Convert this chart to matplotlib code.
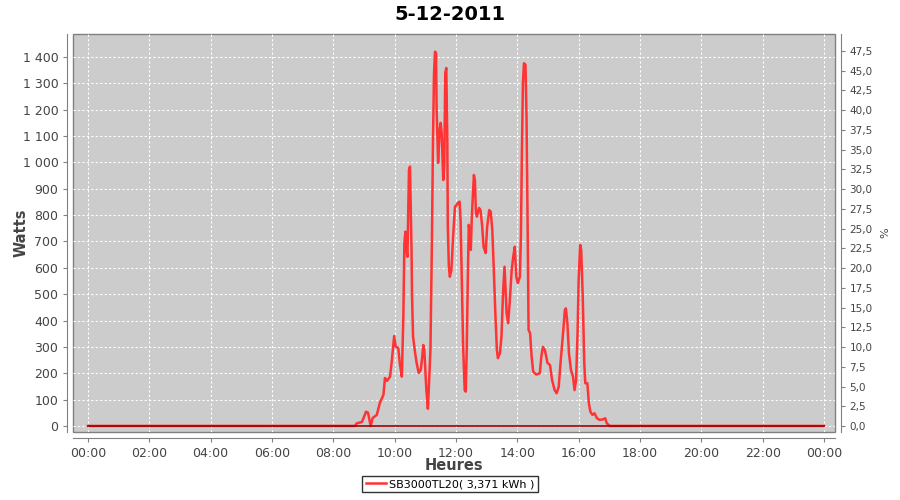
import numpy as np
import matplotlib
matplotlib.use("Agg")
import matplotlib.pyplot as plt
from matplotlib.ticker import FuncFormatter, MultipleLocator

# puissance relevee (heure, watts)
times = ["00:00", "08:42", "08:46", "08:56", "09:04", "09:08", "09:13", "09:17", "09:25",
         "09:31", "09:38", "09:41", "09:45", "09:51", "09:54", "09:59", "10:02", "10:07",
         "10:10", "10:14", "10:17", "10:19", "10:21", "10:23", "10:25", "10:28", "10:30",
         "10:33", "10:34", "10:36", "10:40", "10:43", "10:47", "10:51", "10:54", "10:56",
         "10:58", "11:00", "11:02", "11:04", "11:05", "11:07", "11:10", "11:13", "11:15",
         "11:17", "11:19", "11:21", "11:22", "11:25", "11:28", "11:30", "11:32", "11:35",
         "11:37", "11:39", "11:41", "11:43", "11:44", "11:46", "11:48", "11:51", "11:54",
         "11:58", "12:01", "12:04", "12:07", "12:09", "12:11", "12:14", "12:17", "12:19",
         "12:21", "12:23", "12:25", "12:27", "12:29", "12:31", "12:35", "12:37", "12:39",
         "12:41", "12:45", "12:48", "12:51", "12:54", "12:58", "13:01", "13:05", "13:08",
         "13:11", "13:14", "13:17", "13:20", "13:22", "13:26", "13:29", "13:32", "13:35",
         "13:39", "13:42", "13:45", "13:49", "13:52", "13:55", "13:58", "14:01", "14:05",
         "14:07", "14:09", "14:11", "14:13", "14:16", "14:18", "14:20", "14:22", "14:25",
         "14:28", "14:31", "14:37", "14:44", "14:47", "14:50", "14:54", "14:59", "15:04",
         "15:08", "15:13", "15:17", "15:21", "15:25", "15:30", "15:33", "15:35", "15:38",
         "15:41", "15:45", "15:49", "15:52", "15:55", "15:58", "16:00", "16:03", "16:05",
         "16:08", "16:11", "16:13", "16:17", "16:20", "16:23", "16:27", "16:31", "16:36",
         "16:41", "16:48", "16:52", "16:55", "17:01", "24:00"]
watts = [0, 0, 10, 15, 54, 50, 0, 30, 42,
         87, 118, 182, 171, 187, 239, 341, 301, 296,
         239, 187, 415, 694, 737, 668, 642, 971, 984,
         668, 491, 339, 277, 239, 201, 212, 263, 307,
         288, 212, 136, 92, 65, 150, 288, 720, 1085,
         1339, 1420, 1415, 1211, 998, 1123, 1150, 1112, 933,
         984, 1339, 1358, 1085, 756, 604, 566, 592, 706,
         832, 838, 846, 851, 781, 580, 300, 136, 130,
         288, 542, 763, 732, 668, 794, 952, 933, 808,
         794, 827, 819, 763, 680, 656, 756, 819, 813,
         744, 592, 428, 288, 257, 276, 339, 503, 604,
         428, 390, 466, 592, 642, 680, 566, 542, 566,
         718, 1047, 1301, 1376, 1370, 1173, 794, 364, 352,
         263, 206, 195, 200, 263, 300, 288, 239, 231,
         174, 136, 124, 149, 250, 364, 440, 446, 390,
         276, 212, 187, 136, 174, 364, 554, 687, 668,
         491, 238, 162, 162, 86, 54, 42, 48, 29,
         23, 25, 29, 10, 0, 0]

# serie en % (nulle toute la journee)
pct_times = ["00:00", "24:00"]
pct_values = [0, 0]

xtick_labels = ["00:00", "02:00", "04:00", "06:00", "08:00", "10:00", "12:00",
                "14:00", "16:00", "18:00", "20:00", "22:00", "00:00"]
legend_label = "SB3000TL20( 3,371 kWh )"
title = "5-12-2011"


def to_hours(t):
    h, m = t.split(":")
    return int(h) + int(m) / 60.0


x = np.array([to_hours(t) for t in times])
xp = np.array([to_hours(t) for t in pct_times])

fig = plt.figure(figsize=(9, 5), dpi=100)
ax = fig.add_axes([73 / 900, 68 / 500, 762 / 900, 398 / 500])
ax2 = ax.twinx()

ax.set_facecolor("#cccccc")
for s in ["top", "right"]:
    ax.spines[s].set_visible(False)
ax.spines["left"].set_position(("outward", 4))
ax.spines["bottom"].set_position(("outward", 4))
for s in ["left", "bottom"]:
    ax.spines[s].set_color("#808080")
ax.patch.set_edgecolor("#808080")
ax.patch.set_linewidth(1.0)

ax.plot(x, watts, color="#ff3333", lw=1.8, label=legend_label, zorder=3)
ax2.plot(xp, pct_values, color="#a00000", lw=1.2, zorder=4)

ax.set_xlim(-0.49, 24.36)
ax.set_ylim(-23, 1487)
ax2.set_ylim(-0.76, 49.65)

ax.set_xticks(np.arange(0, 25, 2))
ax.set_xticklabels(xtick_labels)
ax.yaxis.set_major_locator(MultipleLocator(100))
ax.yaxis.set_major_formatter(FuncFormatter(lambda v, p: f"{int(v):,}".replace(",", " ")))
ax2.yaxis.set_major_locator(MultipleLocator(2.5))
ax2.yaxis.set_major_formatter(FuncFormatter(lambda v, p: f"{v:.1f}".replace(".", ",")))

ax.grid(True, color="white", ls=(0, (2, 2)), lw=0.8)
ax.tick_params(axis="both", colors="#808080", labelcolor="#444444", labelsize=9, length=3)
ax2.tick_params(axis="y", colors="#808080", labelcolor="#444444", labelsize=7.5, length=3)

for s in ["top", "left", "bottom"]:
    ax2.spines[s].set_visible(False)
ax2.spines["right"].set_position(("outward", 4))
ax2.spines["right"].set_color("#808080")

ax.set_xlabel("Heures", fontsize=10.5, color="#444444", fontweight="bold")
ax.set_ylabel("Watts", fontsize=10.5, color="#444444", fontweight="bold")
ax2.set_ylabel("%", fontsize=8, color="#444444")
ax.xaxis.set_label_coords(0.5, -0.066)
ax.yaxis.set_label_coords(-0.058, 0.5)
ax2.yaxis.set_label_coords(1.06, 0.5)

fig.suptitle(title, x=0.5, y=0.99, fontsize=14, fontweight="bold")

leg = fig.legend(loc="lower center", bbox_to_anchor=(0.5, 0.004), fontsize=8,
                 frameon=True, fancybox=False, handlelength=1.8, borderpad=0.3,
                 handletextpad=0.3)
leg.get_frame().set_edgecolor("black")
leg.get_frame().set_linewidth(1.0)

fig.savefig("out.png", dpi=100)
